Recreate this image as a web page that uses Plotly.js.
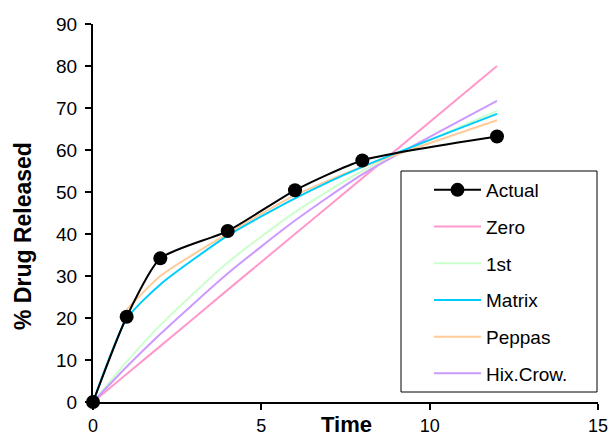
<!DOCTYPE html>
<html><head><meta charset="utf-8">
<script src="https://cdn.plot.ly/plotly-3.0.1.min.js"></script>
<style>body{margin:0;background:#fff}#c{width:613px;height:437px}</style>
</head><body><div id="c"></div>
<script>
var time = [0, 1, 2, 4, 6, 8, 12];
var actual = [0, 20.3, 34.2, 40.7, 50.4, 57.5, 63.2];
var zero = [0, 6.67, 13.3, 26.7, 40.0, 53.3, 80.0];
var first = [0, 9.6, 18.3, 33.2, 45.2, 55.0, 69.3];
var matrix = [0, 19.8, 28.0, 39.6, 48.5, 56.0, 68.6];
var peppas = [null, 22.0, 30.0, 40.1, 49.2, 56.0, 67.1];
var hix = [0, 8.4, 16.2, 30.6, 43.2, 54.2, 71.7];
var names = ["Actual", "Zero", "1st", "Matrix", "Peppas", "Hix.Crow."];
var colors = ["#000000", "#FF99CC", "#CCFFCC", "#00CCFF", "#FFCC99", "#CC99FF"];
var series = [actual, zero, first, matrix, peppas, hix];
var order = [1, 2, 5, 4, 3, 0];
var traces = [];
order.forEach(function (i) {
  var t = {
    x: time, y: series[i], name: names[i], type: "scatter",
    mode: i === 0 ? "lines+markers" : "lines",
    line: {color: colors[i], width: 2, shape: "spline", smoothing: 0.6},
    legendgroup: "g" + i, legendrank: i + 1,
    cliponaxis: false
  };
  if (i === 0) t.marker = {size: 14, color: "#000"};
  traces.push(t);
});
function px(x) { return (x - 93) / 505; }
function py(y) { return (402 - y) / 378; }
var layout = {
  width: 613, height: 437,
  margin: {l: 93, r: 15, t: 24, b: 35},
  paper_bgcolor: "#fff", plot_bgcolor: "#fff",
  font: {family: "Liberation Sans, Arial, sans-serif", size: 19, color: "#000"},
  showlegend: true,
  legend: {x: px(429), y: py(171), xanchor: "left", yanchor: "top",
    borderwidth: 0, bgcolor: "rgba(0,0,0,0)",
    traceorder: "grouped", tracegroupgap: 9, itemwidth: 47,
    font: {size: 19}},
  shapes: [
    {type: "rect", xref: "paper", yref: "paper", x0: px(401), x1: px(597), y0: py(392), y1: py(171),
      line: {color: "#000", width: 1}, fillcolor: "#fff", layer: "below"}
  ],
  xaxis: {range: [0, 15], tickvals: [0, 5, 10, 15], showgrid: false, zeroline: false,
    showline: true, linecolor: "#000", linewidth: 2, ticks: "outside", ticklen: 6,
    tickwidth: 2, tickcolor: "#000", fixedrange: true, ticklabelstandoff: 0,
    tickfont: {size: 18}},
  yaxis: {range: [0, 90], dtick: 10, showgrid: false, zeroline: false,
    showline: true, linecolor: "#000", linewidth: 2, ticks: "outside", ticklen: 6,
    tickwidth: 2, tickcolor: "#000", fixedrange: true, ticklabelstandoff: 4},
  annotations: [
    {text: "<b>Time</b>", xref: "paper", yref: "paper", x: px(346), y: py(424),
      showarrow: false, xanchor: "center", yanchor: "middle", font: {size: 22}},
    {text: "<b>% Drug Released</b>", xref: "paper", yref: "paper", x: px(23), y: py(236),
      showarrow: false, xanchor: "center", yanchor: "middle", textangle: -90, font: {size: 23}}
  ]
};
Plotly.newPlot("c", traces, layout, {displayModeBar: false, staticPlot: true});
</script></body></html>
